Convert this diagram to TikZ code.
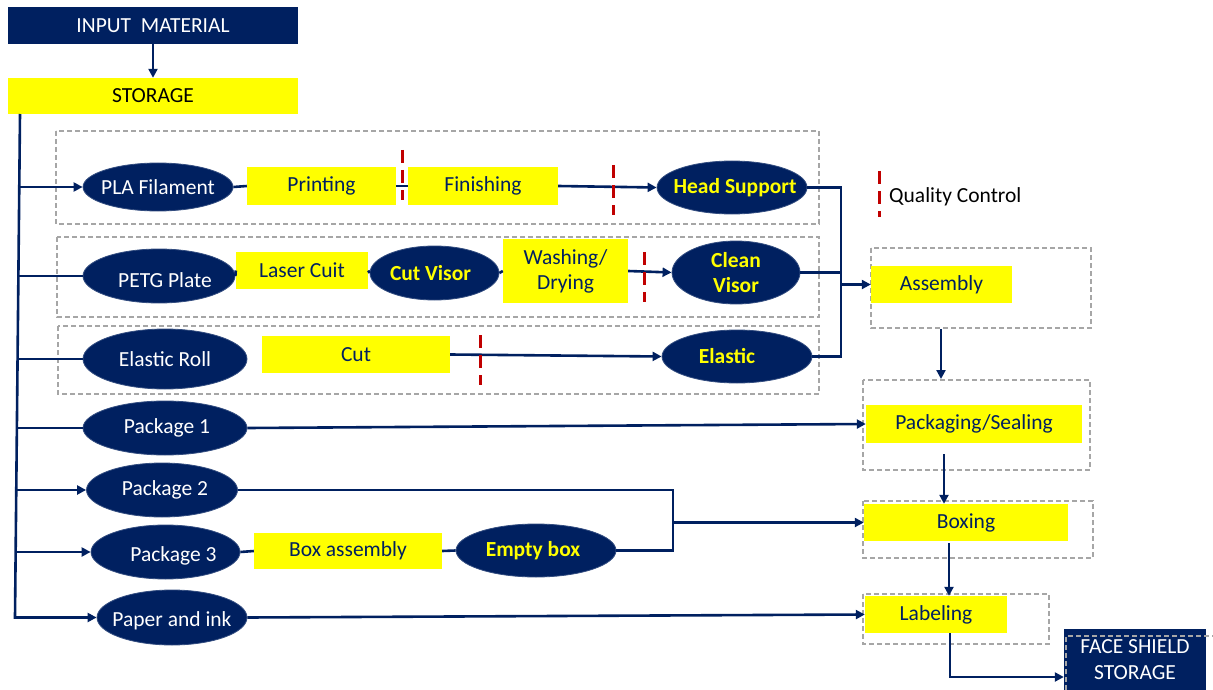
\documentclass[tikz,border=0pt]{standalone}
\usepackage{fontspec}
\setmainfont{Carlito}
\usetikzlibrary{shapes.geometric,arrows.meta}
\definecolor{navy}{RGB}{0,32,96}
\definecolor{hiyellow}{RGB}{255,255,0}
\definecolor{qcred}{RGB}{192,0,0}
\definecolor{grpgray}{RGB}{166,166,166}
\newcommand{\txt}{\fontsize{21.5}{25}\selectfont}
\tikzset{
  ybox/.style={rectangle, fill=hiyellow, text=navy, inner sep=0pt, font=\txt},
  nbox/.style={rectangle, fill=navy, text=white, inner sep=0pt, font=\txt, align=center},
  oval/.style={ellipse, fill=navy, draw=navy!80!white, line width=0.8pt, inner sep=0pt},
  ovaltext/.style={text=white, font=\txt},
  ovalbold/.style={text=hiyellow, font=\txt\bfseries, align=center},
  flow/.style={draw=navy, line width=2.6pt, line join=miter},
  arr/.style={flow, -{Triangle[length=9pt,width=9pt]}},
  grp/.style={draw=grpgray, line width=1.1pt, dash pattern=on 5pt off 3pt},
  qc/.style={draw=qcred, line width=3pt, dash pattern=on 13pt off 7pt},
}
\begin{document}
\begin{tikzpicture}[x=1pt,y=-1pt]
\useasboundingbox (0,0) rectangle (1213,690);

% dashed group frames
\draw[grp] (56,131) rectangle (819,224);
\draw[grp] (57,237) rectangle (819,317);
\draw[grp] (58,326) rectangle (819,394);
\draw[grp] (871,248) rectangle (1091,328);
\draw[grp] (863,380) rectangle (1090,470);
\draw[grp] (863,501) rectangle (1093,558);
\draw[grp] (863,594) rectangle (1049,644);

% top of the line
\node[nbox, minimum width=290pt, minimum height=37pt] (input) at (153,25.5) {INPUT~~MATERIAL};
\node[ybox, text=black, minimum width=290pt, minimum height=36pt] (storage) at (153,96) {STORAGE};

% row 1: head support
\node[oval, minimum width=150pt, minimum height=48pt, label={[ovaltext]center:PLA Filament}] (pla) at (158,187) {};
\node[ybox, minimum width=149pt, minimum height=38pt] (print) at (321.5,186) {Printing};
\node[ybox, minimum width=150pt, minimum height=38pt] (finish) at (483,186) {Finishing};
\node[oval, minimum width=150pt, minimum height=53pt, label={[ovalbold, xshift=3pt]center:Head Support}] (head) at (732,187.5) {};

% row 2: visor
\node[oval, minimum width=152pt, minimum height=54pt, label={[ovaltext, xshift=6pt, yshift=-4pt]center:PETG Plate}] (petg) at (159,276) {};
\node[ybox, minimum width=132pt, minimum height=37pt] (laser) at (302,270.5) {Laser Cuit};
\node[oval, minimum width=129pt, minimum height=54pt, label={[ovalbold, xshift=-4pt]center:Cut Visor}] (cutv) at (434.5,273) {};
\node[ybox, align=center, minimum width=125pt, minimum height=64pt] (wash) at (565.5,271) {Washing/\\Drying};
\node[oval, minimum width=128pt, minimum height=63pt, label={[ovalbold]center:Clean\\Visor}] (clean) at (736,272.5) {};

% row 3: elastic
\node[oval, minimum width=164pt, minimum height=60pt, label={[ovaltext]center:Elastic Roll}] (elroll) at (165,359) {};
\node[ybox, minimum width=188pt, minimum height=37pt] (cut) at (356,354.5) {Cut};
\node[oval, minimum width=150pt, minimum height=53pt, label={[ovalbold, xshift=-10pt]center:Elastic}] (elastic) at (737,356.5) {};

% packaging material
\node[oval, minimum width=164pt, minimum height=54pt, label={[ovaltext, xshift=2pt]center:Package 1}] (pk1) at (165,428) {};
\node[oval, minimum width=151pt, minimum height=54pt, label={[ovaltext, xshift=3pt]center:Package 2}] (pk2) at (162,490) {};
\node[oval, minimum width=149pt, minimum height=54pt, label={[ovaltext, xshift=8pt, yshift=-4pt]center:Package 3}] (pk3) at (165.5,552) {};
\node[ybox, minimum width=188pt, minimum height=36pt] (boxasm) at (348,551) {Box assembly};
\node[oval, minimum width=160pt, minimum height=53pt, label={[ovalbold, xshift=-3pt]center:Empty box}] (empty) at (536,550.5) {};
\node[oval, minimum width=150pt, minimum height=55pt, label={[ovaltext, yshift=-3pt]center:Paper and ink}] (paper) at (172,617.5) {};

% final steps
\node[ybox, minimum width=141pt, minimum height=37pt] (asm) at (941.5,284.5) {Assembly};
\node[ybox, minimum width=216pt, minimum height=38pt] (pack) at (974,424) {Packaging/Sealing};
\node[ybox, minimum width=204pt, minimum height=37pt] (boxing) at (966,522.5) {Boxing};
\node[ybox, minimum width=142pt, minimum height=37pt] (lab) at (936,614.5) {Labeling};
\node[nbox, minimum width=142pt, minimum height=61pt, font=\fontsize{21.5}{26}\selectfont] (face) at (1135,659.5) {FACE SHIELD\\STORAGE};
\draw[grp] (1066,690) -- (1066,636) -- (1214,636);

% legend
\node[anchor=west, font=\txt, text=black, inner sep=0pt] (qclegend) at (889,197) {Quality Control};

% distribution trunk and branches
\coordinate (t0) at (20,114);
\coordinate (b1) at (19.3,0);
\coordinate (b2) at (18.4,0);
\coordinate (b3) at (17.5,0);
\coordinate (b4) at (16.9,0);
\coordinate (b5) at (16.3,0);
\coordinate (b6) at (15.6,0);
\coordinate (b7) at (15,617.5);

\draw[arr] (input.south) -- (storage.north);
\draw[arr] (t0) -- (b7) -- (paper.west);
\draw[arr] (pla.west -| b1) -- (pla.west);
\draw[flow] (petg.west -| b2) -- (petg.west);
\draw[flow] (elroll.west -| b3) -- (elroll.west);
\draw[flow] (pk1.west -| b4) -- (pk1.west);
\draw[arr] (pk2.west -| b5) -- (pk2.west);
\draw[arr] (pk3.west -| b6) -- (pk3.west);

% process chains
\draw[flow] (pla.east) -- (print.west);
\draw[flow] (print.east) -- (finish.west);
\draw[arr] (finish.east) -- (head.west);
\draw[flow] (petg.east) -- (laser.west);
\draw[flow] (laser.east) -- (cutv.west);
\draw[flow] (cutv.east) -- (wash.west);
\draw[arr] (wash.east) -- (clean.west);
\draw[arr] (cut.east) -- (elastic.west);
\draw[flow] (pk3.east) -- (boxasm.west);
\draw[flow] (boxasm.east) -- (empty.west);

% merge into assembly
\coordinate (jA) at (841,284.5);
\draw[flow] (head.east) -| (jA);
\draw[flow] (elastic.east) -| (jA);
\draw[flow] (clean.east) -- (clean.east -| jA);
\draw[arr] (jA) -- (asm.west);

% merge into boxing
\coordinate (jB) at (673,522.5);
\draw[flow] (pk2.east) -| (jB) |- (empty.east);
\draw[arr] (jB) -- (boxing.west);

\draw[arr] (pk1.east) -- (pack.west);
\draw[arr] (paper.east) -- (lab.west);

% downstream flow
\coordinate (d1) at (941,329);
\coordinate (d2) at (944,454);
\coordinate (d3) at (949,543);
\coordinate (d4) at (950,633);
\draw[arr] (d1) -- (941,379);
\draw[arr] (d2) -- (d2 |- boxing.north);
\draw[arr] (d3) -- (d3 |- lab.north);
\draw[arr] (d4) |- ([yshift=-17.5pt]face.west);

% quality control checkpoints
\draw[qc] (402,150) -- (402,200);
\draw[qc] (613,165) -- (613,215);
\draw[qc] (644,252) -- (644,302);
\draw[qc] (480,335) -- (480,385);
\draw[qc] (879,171) -- (879,217);
\end{tikzpicture}
\end{document}
